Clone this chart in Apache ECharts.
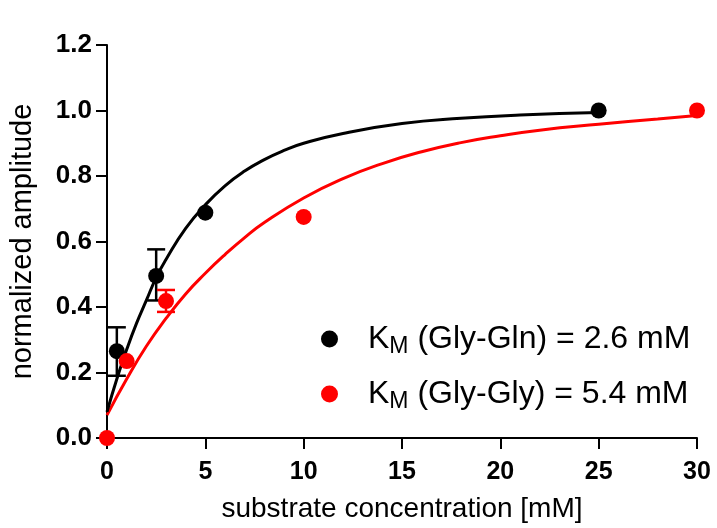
<!DOCTYPE html>
<html>
<head>
<meta charset="utf-8">
<script src="https://cdn.jsdelivr.net/npm/echarts@6/dist/echarts.min.js"></script>
<style>
  html, body { margin: 0; padding: 0; background: #fff; }
  #chart-container { width: 717px; height: 528px; }
</style>
</head>
<body>
<div id="chart-container"></div>
<script>
// measured points [x mM, normalized amplitude]
var glnPoints = [[0.5, 0.265], [2.5, 0.495], [5, 0.688], [25, 1.0]];
var glyPoints = [[0, 0.0], [1, 0.235], [3, 0.418], [10, 0.675], [30, 1.0]];

// error bars [x, low, high]
var glnErrors = [[0.5, 0.19, 0.338], [2.5, 0.42, 0.576]];
var glyErrors = [[3, 0.385, 0.452]];

// fitted curves
var glnFit = [[0, 0.08], [0.5, 0.18], [1, 0.27], [1.5, 0.35], [2, 0.42], [2.5, 0.49],
  [3, 0.545], [4, 0.64], [5, 0.712], [6, 0.77], [7, 0.815], [8, 0.85], [9, 0.878],
  [10, 0.9], [12, 0.93], [15, 0.96], [18, 0.976], [21, 0.986], [25, 0.994]];
var glyFit = [[0, 0.07], [1, 0.18], [2, 0.28], [3, 0.365], [4, 0.44], [5, 0.503],
  [6, 0.56], [7, 0.612], [8, 0.658], [10, 0.733], [12, 0.792], [14, 0.838], [16, 0.874],
  [18, 0.902], [20, 0.923], [22, 0.94], [25, 0.958], [28, 0.974], [30, 0.985]];

var seriesNames = ["Gly-Gln", "Gly-Gly"];
var kmValues = ["2.6 mM", "5.4 mM"];

var font = "Liberation Sans, Arial, sans-serif";
var dom = document.getElementById("chart-container");
var myChart = echarts.init(dom, null, { renderer: "canvas" });

function errorBar(color) {
  return function (params, api) {
    var x = api.value(0);
    var lo = api.coord([x, api.value(1)]);
    var hi = api.coord([x, api.value(2)]);
    var half = 9;
    var st = { stroke: color, lineWidth: 2.5 };
    return {
      type: "group",
      children: [
        { type: "line", shape: { x1: lo[0], y1: lo[1], x2: hi[0], y2: hi[1] }, style: st },
        { type: "line", shape: { x1: hi[0] - half, y1: hi[1], x2: hi[0] + half, y2: hi[1] }, style: st },
        { type: "line", shape: { x1: lo[0] - half, y1: lo[1], x2: lo[0] + half, y2: lo[1] }, style: st },
      ],
    };
  };
}

var option = {
  backgroundColor: "#fff",
  animation: false,
  grid: { left: 106, right: 20, top: 45, bottom: 90 },
  legend: {
    orient: "vertical",
    left: 321,
    top: 323,
    padding: 0,
    itemGap: 20,
    itemWidth: 17,
    itemHeight: 17,
    icon: "circle",
    data: seriesNames,
    formatter: function (name) {
      var i = seriesNames.indexOf(name);
      return "{k|K}{m|M}{t| (" + name + ") = " + kmValues[i] + "}";
    },
    textStyle: {
      color: "#000",
      rich: {
        k: { fontSize: 32, fontFamily: font, lineHeight: 38, padding: [0, 0, 0, 25] },
        m: { fontSize: 23, fontFamily: font, lineHeight: 27, verticalAlign: "bottom" },
        t: { fontSize: 32, fontFamily: font, lineHeight: 38 },
      },
    },
  },
  xAxis: {
    type: "value",
    min: 0,
    max: 30,
    interval: 5,
    name: "substrate concentration [mM]",
    nameLocation: "middle",
    nameGap: 57,
    nameTextStyle: { fontSize: 28, fontFamily: font, color: "#000" },
    axisLine: { lineStyle: { color: "#000", width: 2 } },
    axisTick: { length: 11, lineStyle: { color: "#000", width: 2 } },
    axisLabel: { margin: 22, fontSize: 25, fontWeight: "bold", fontFamily: font, color: "#000" },
    splitLine: { show: false },
  },
  yAxis: {
    type: "value",
    min: 0,
    max: 1.2,
    interval: 0.2,
    name: "normalized amplitude",
    nameLocation: "middle",
    nameGap: 70,
    nameTextStyle: { fontSize: 29, fontFamily: font, color: "#000" },
    axisLine: { show: true, lineStyle: { color: "#000", width: 2 } },
    axisTick: { show: true, length: 11, lineStyle: { color: "#000", width: 2 } },
    axisLabel: {
      margin: 15,
      fontSize: 26,
      fontWeight: "bold",
      fontFamily: font,
      color: "#000",
      formatter: function (v) { return v.toFixed(1); },
    },
    splitLine: { show: false },
  },
  series: [
    {
      name: "fit Gly-Gly",
      type: "line",
      data: glyFit,
      smooth: true,
      showSymbol: false,
      lineStyle: { color: "#ff0000", width: 3 },
      z: 2,
    },
    {
      name: "fit Gly-Gln",
      type: "line",
      data: glnFit,
      smooth: true,
      showSymbol: false,
      lineStyle: { color: "#000", width: 3 },
      z: 2,
    },
    {
      type: "custom",
      renderItem: errorBar("#000"),
      data: glnErrors,
      encode: { x: 0, y: [1, 2] },
      z: 3,
    },
    {
      type: "custom",
      renderItem: errorBar("#ff0000"),
      data: glyErrors,
      encode: { x: 0, y: [1, 2] },
      z: 3,
    },
    {
      name: seriesNames[0],
      type: "scatter",
      data: glnPoints,
      symbolSize: 16,
      itemStyle: { color: "#000", opacity: 1 },
      z: 4,
    },
    {
      name: seriesNames[1],
      type: "scatter",
      data: glyPoints,
      symbolSize: 16,
      itemStyle: { color: "#ff0000", opacity: 1 },
      clip: false,
      z: 4,
    },
  ],
};

if (option && typeof option === "object") {
  myChart.setOption(option);
}

window.addEventListener("resize", myChart.resize);
</script>
</body>
</html>
